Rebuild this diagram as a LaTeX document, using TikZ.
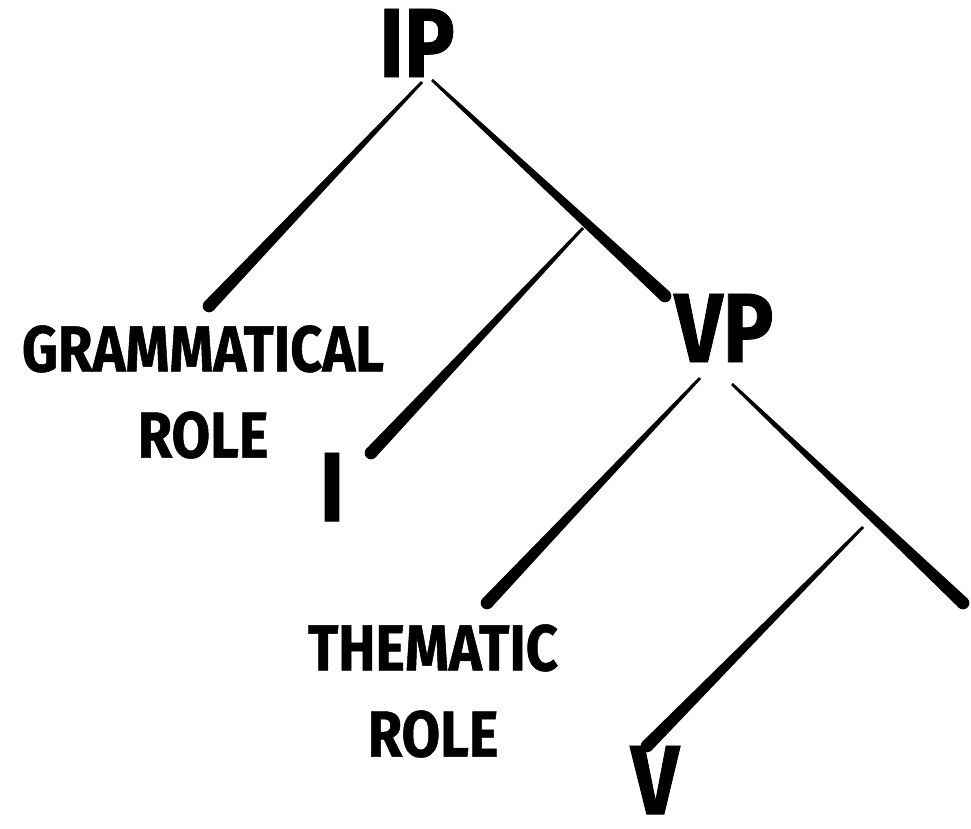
\documentclass[tikz,border=0pt]{standalone}
\usepackage{fontspec}
\setmainfont{Fira Sans}[FakeStretch=0.86, BoldFeatures={FakeBold=0.8}]
\usetikzlibrary{calc}

\tikzset{
    tag/.style={font=\bfseries\fontsize{28}{30}\selectfont, inner sep=0pt},
    role/.style={font=\bfseries\fontsize{18.5}{24.5}\selectfont, align=center, inner sep=0pt}
}

% tapered brush stroke, thin at #1 and thick at #2
\newcommand{\brushline}[2]{%
    \fill ($(#1)!0.4pt!90:(#2)$) -- ($(#2)!1.8pt!-90:(#1)$) -- ($(#2)!1.8pt!90:(#1)$) -- ($(#1)!0.4pt!-90:(#2)$) -- cycle;
    \fill (#2) circle (1.8pt);
}

\begin{document}
\begin{tikzpicture}
    \useasboundingbox (0,0) rectangle (9.71,8.28);

    % Labels of the tree
    \node[tag] (ip) at (4.17,7.85) {IP};
    \node[tag] (vp) at (7.24,5.00) {VP};
    \node[tag] (i) at (3.32,3.41) {I};
    \node[tag] (v) at (6.55,0.48) {V};
    \node[role] (gram) at (2.03,4.36) {GRAMMATICAL\\ROLE};
    \node[role] (them) at (4.33,1.37) {THEMATIC\\ROLE};

    % End points of the strokes
    \coordinate (ip-l) at (4.22,7.46);
    \coordinate (ip-r) at (4.32,7.48);
    \coordinate (gram-top) at (2.09,5.22);
    \coordinate (vp-top) at (6.65,5.32);
    \coordinate (ip-mid) at (5.83,6.00);
    \coordinate (i-top) at (3.71,3.75);
    \coordinate (vp-l) at (7.00,4.50);
    \coordinate (vp-r) at (7.32,4.44);
    \coordinate (them-top) at (4.87,2.25);
    \coordinate (vp-end) at (9.63,2.25);
    \coordinate (vp-mid) at (8.63,3.01);
    \coordinate (v-top) at (6.47,0.82);

    % Draw branches
    \brushline{ip-l}{gram-top}
    \brushline{ip-r}{vp-top}
    \brushline{ip-mid}{i-top}
    \brushline{vp-l}{them-top}
    \brushline{vp-r}{vp-end}
    \brushline{vp-mid}{v-top}
\end{tikzpicture}
\end{document}
